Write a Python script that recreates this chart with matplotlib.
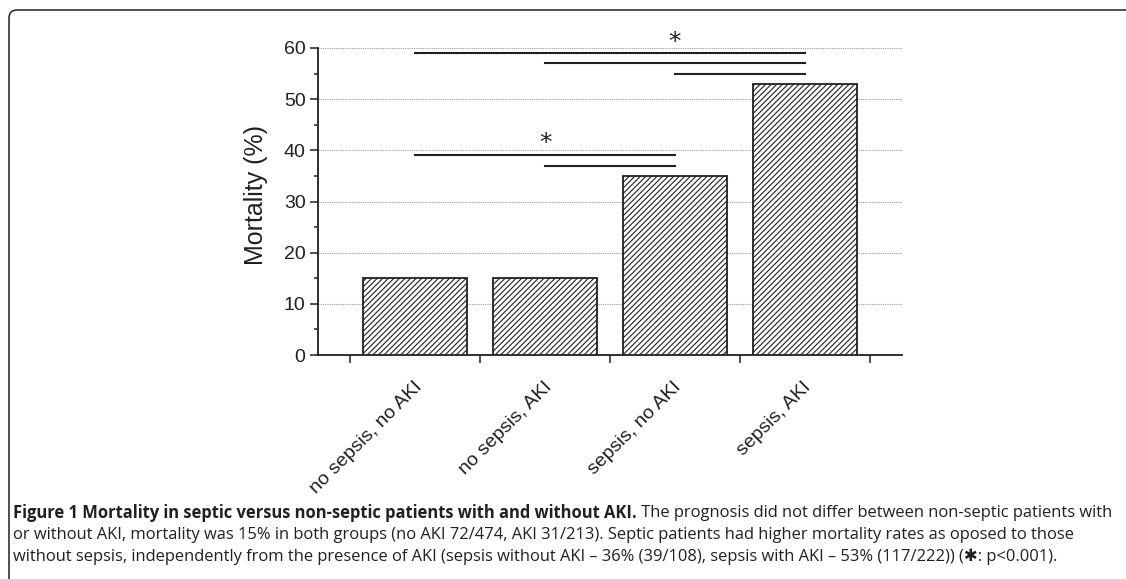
import matplotlib
matplotlib.use("Agg")
import matplotlib.pyplot as plt
from matplotlib.patches import FancyBboxPatch
from matplotlib.text import Annotation
from matplotlib.transforms import IdentityTransform, ScaledTranslation
import numpy as np

# data
groups = ["no sepsis, no AKI", "no sepsis, AKI", "sepsis, no AKI", "sepsis, AKI"]
mortality = [15, 15, 35, 53]
# significance brackets: (from group, to group, height)
sig_lines = [(0, 3, 59), (1, 3, 57), (2, 3, 55), (0, 2, 39), (1, 2, 37)]
sig_stars = [(2, 62.5), (1, 42.8)]

caption_bold = "Figure 1 Mortality in septic versus non-septic patients with and without AKI."
caption_rest = [
    " The prognosis did not differ between non-septic patients with",
    "or without AKI, mortality was 15% in both groups (no AKI 72/474, AKI 31/213). Septic patients had higher mortality rates as oposed to those",
    "without sepsis, independently from the presence of AKI (sepsis without AKI \u2013 36% (39/108), sepsis with AKI \u2013 53% (117/222)) (\u2731: p<0.001).",
]

ink = "#231f20"
plt.rcParams["font.family"] = ["Liberation Sans", "DejaVu Sans"]
plt.rcParams["hatch.linewidth"] = 0.8
plt.rcParams["hatch.color"] = ink

W, H = 1126, 579
fig = plt.figure(figsize=(W / 100, H / 100), dpi=100)
ax = fig.add_axes([318 / W, 1 - 355 / H, (902 - 318) / W, (355 - 48) / H])

x = np.arange(len(groups))
ax.bar(x, mortality, width=0.8, color="white", edgecolor=ink, linewidth=1.3,
       hatch="//////", zorder=3)

ax.set_xlim(-0.75, 3.75)
ax.set_ylim(0, 60)

for s in ["top", "right"]:
    ax.spines[s].set_visible(False)
for s in ["left", "bottom"]:
    ax.spines[s].set_color(ink)
    ax.spines[s].set_linewidth(1.3)

ax.set_yticks(np.arange(0, 61, 10))
ax.set_yticks(np.arange(5, 60, 10), minor=True)
ax.tick_params(axis="y", which="major", direction="out", length=6, width=1.1,
               color=ink, labelsize=14, labelcolor=ink, pad=3)
ax.tick_params(axis="y", which="minor", direction="out", length=3, width=1.1, color=ink)

ax.set_xticks(x)
ax.set_xticklabels(groups, rotation=45, ha="right")
ax.set_xticks(np.arange(-0.5, 4, 1), minor=True)
ax.tick_params(axis="x", which="major", length=0, labelsize=14, labelcolor=ink, pad=17)
ax.tick_params(axis="x", which="minor", direction="out", length=6, width=1.1, color=ink)
for lab in ax.get_xticklabels():
    lab.set_transform(lab.get_transform() + ScaledTranslation(0.1, 0, fig.dpi_scale_trans))

ax.yaxis.grid(True, which="major", linestyle=(0, (1, 1)), color="#9a9a9a", linewidth=0.8)
ax.set_axisbelow(True)

ax.set_ylabel("Mortality (%)", fontsize=18, color=ink)
ax.yaxis.set_label_coords(-0.085, 0.52)

for a, b, h in sig_lines:
    ax.plot([a, b], [h, h], color=ink, linewidth=1.5, clip_on=False, zorder=4)
for sx, sy in sig_stars:
    ax.annotate("*", xy=(sx, sy), xytext=(0, -10), textcoords="offset points",
                ha="center", va="baseline", fontsize=18, color=ink,
                family="DejaVu Sans", annotation_clip=False)

# frame around figure (open to the right and bottom)
frame = FancyBboxPatch((9, -40), W + 60, H - 10 + 40,
                       boxstyle="round,pad=0,rounding_size=8",
                       transform=IdentityTransform(), fill=False,
                       edgecolor=ink, linewidth=1.1)
fig.add_artist(frame)

# caption
cap_font = ["Open Sans", "DejaVu Sans"]
cap_size = 11.9
ys = [1 - 513 / H, 1 - 535 / H, 1 - 557 / H]
t1 = fig.text(13 / W, ys[0], caption_bold, fontsize=cap_size, fontweight="bold",
              family=cap_font, color=ink, va="center")
fig.add_artist(Annotation(caption_rest[0], xy=(1, 0.5), xycoords=t1, va="center",
                          ha="left", fontsize=cap_size, family=cap_font, color=ink))
for line, yy in zip(caption_rest[1:], ys[1:]):
    fig.text(13 / W, yy, line, fontsize=cap_size, family=cap_font, color=ink, va="center")

fig.savefig("out.png", dpi=100)
